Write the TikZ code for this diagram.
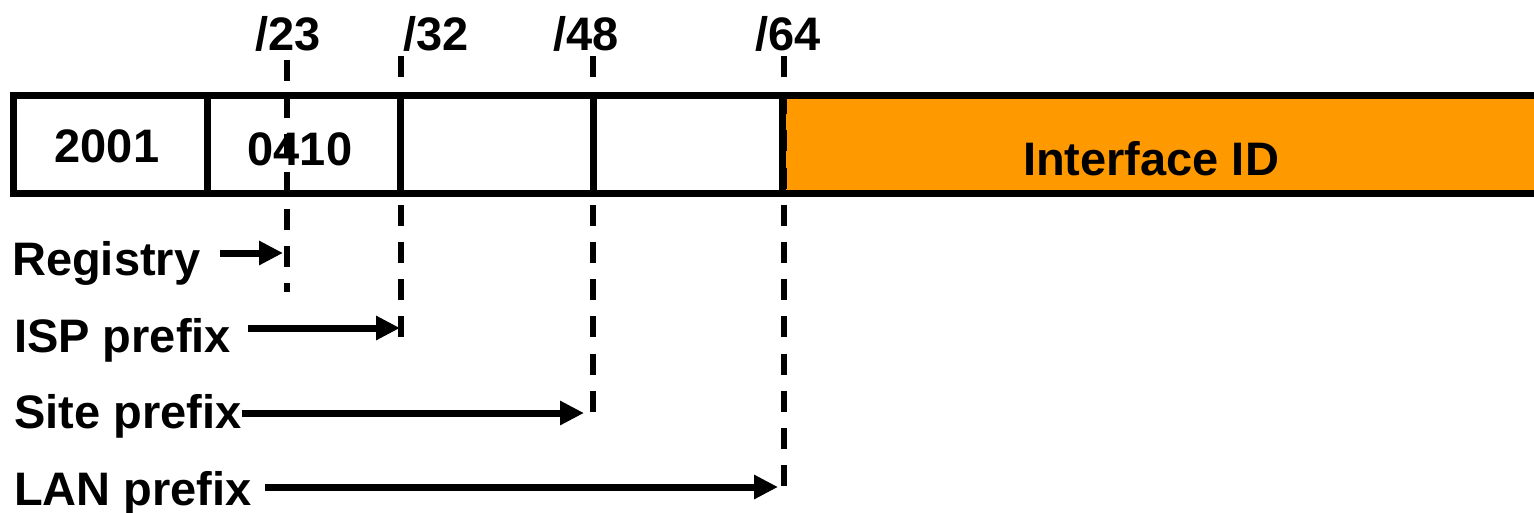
\documentclass[tikz,border=0pt]{standalone}
\usepackage{fontspec}
\setmainfont{Liberation Sans}
\usetikzlibrary{arrows.meta}
\definecolor{ifcorange}{RGB}{255,153,0}
\begin{document}
\begin{tikzpicture}[x=1pt,y=-1pt,
  field/.style={draw=black, line width=7pt, minimum height=98pt, inner sep=0pt, outer sep=0pt, anchor=west},
  lbl/.style={font=\fontsize{47}{50}\selectfont\bfseries, inner sep=0pt, text height=34pt, text depth=0pt},
  cut/.style={font=\fontsize{47}{50}\selectfont\bfseries, inner sep=0pt, text height=34pt, text depth=0pt},
  cutline/.style={line width=5.5pt, dash pattern=on 21pt off 16.2pt},
  arr/.style={line width=7pt, -{Triangle[length=24pt,width=23pt]}}]
\useasboundingbox (0,0) rectangle (1534,512);
% fields
\node[field, minimum width=194pt] (f1) at (13,144) {};
\node[field, minimum width=193pt] (f2) at (f1.east) {};
\node[field, minimum width=193pt] (f3) at (f2.east) {};
\node[field, minimum width=189pt] (f4) at (f3.east) {};
\node[field, fill=ifcorange, minimum width=820pt] (f5) at (f4.east) {};
% field texts
\node[lbl] (t1) at (107,145) {2001};
\node[lbl] (t2) at (300,148) {0410};
\node[lbl] (t5) at (1151,158) {Interface ID};
% cut labels
\node[cut] (c23) at (288,33) {/23};
\node[cut] (c32) at (436,33) {/32};
\node[cut] (c48) at (586,33) {/48};
\node[cut] (c64) at (788,33) {/64};
% dashed lines
\coordinate (u23) at (287,60);  \coordinate (d23) at (287,292);
\coordinate (u32) at (401,56);  \coordinate (d32) at (401,340);
\coordinate (u48) at (593,56);  \coordinate (d48) at (593,412);
\coordinate (u64) at (784,56);  \coordinate (d64) at (784,487);
\draw[cutline] (u23) -- (d23);
\draw[cutline] (u32) -- (d32);
\draw[cutline] (u48) -- (d48);
\draw[cutline] (u64) -- (d64);
% prefix labels
\node[lbl, anchor=west] (reg) at (12,258) {Registry};
\node[lbl, anchor=west] (isp) at (14,335) {ISP prefix};
\node[lbl, anchor=west] (site) at (14,411) {Site prefix};
\node[lbl, anchor=west] (lan) at (14,488) {LAN prefix};
% arrow targets
\coordinate (a23) at (283,253);
\coordinate (a32) at (400,328);
\coordinate (a48) at (584,413);
\coordinate (a64) at (778,487);
\draw[arr] ([xshift=20pt]reg.east |- a23) -- (a23);
\draw[arr] ([xshift=17pt]isp.east |- a32) -- (a32);
\draw[arr] (site.east |- a48) -- (a48);
\draw[arr] ([xshift=13pt]lan.east |- a64) -- (a64);
\end{tikzpicture}
\end{document}
